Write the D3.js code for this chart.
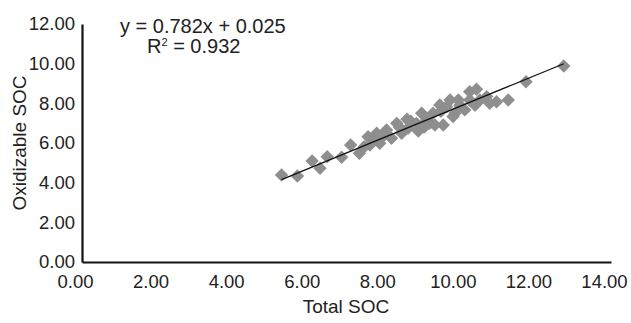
<!DOCTYPE html>
<html>
<head>
<meta charset="utf-8">
<script src="https://cdn.jsdelivr.net/npm/d3@7"></script>
<style>
  body { margin: 0; background: #fff; }
  text { font-family: "Liberation Sans", Arial, sans-serif; fill: #222; }
</style>
</head>
<body>
<div id="chart"></div>
<script>
// Total SOC (x) vs Oxidizable SOC (y)
const totalSoc = [5.28, 5.70, 6.09, 6.30, 6.49, 6.87, 7.11, 7.34, 7.57, 7.62, 7.80, 7.88, 8.06, 8.19, 8.33, 8.46,
  8.63, 8.85, 8.99, 9.07, 7.47, 7.71, 12.75, 11.75, 11.28, 10.97, 10.71, 10.44, 10.26, 10.26, 9.96, 9.74,
  9.65, 9.47, 10.13, 9.87, 9.29, 9.12, 9.56, 9.34, 9.03, 9.82, 10.53, 10.79,
  8.00, 8.40, 8.70, 9.20, 9.50, 10.00, 10.40, 8.90, 7.90, 8.60];
const oxidizableSoc = [4.39, 4.34, 5.09, 4.73, 5.31, 5.28, 5.90, 5.48, 6.32, 5.90, 6.49, 5.99, 6.66, 6.24, 6.99, 6.49,
  6.74, 6.99, 7.50, 6.82, 5.81, 6.15, 9.88, 9.09, 8.17, 8.08, 8.34, 8.71, 8.59, 8.17, 8.17, 8.17,
  7.83, 7.92, 7.67, 7.50, 7.50, 7.16, 6.91, 6.91, 6.82, 7.33, 8.17, 8.00,
  6.40, 6.80, 7.10, 7.00, 7.60, 7.90, 7.90, 6.60, 6.30, 7.20];
const xTicks = [0, 2, 4, 6, 8, 10, 12, 14];
const yTicks = [0, 2, 4, 6, 8, 10, 12];
const slope = 0.782, intercept = 0.025;
const eqLabel = 'y = 0.782x + 0.025';
const r2Value = '0.932';

const width = 631, height = 323;
const svg = d3.select('#chart').append('svg')
  .attr('width', width)
  .attr('height', height);

const x = d3.scaleLinear().domain([0, 14]).range([82, 611]);
const y = d3.scaleLinear().domain([0, 12]).range([262, 24]);

// axes, no tick marks
const xAxis = svg.append('g')
  .attr('transform', `translate(0,${y(0)})`)
  .call(d3.axisBottom(x).tickValues(xTicks).tickSize(0).tickPadding(13).tickFormat(d3.format('.2f')));
xAxis.select('.domain').attr('stroke', '#111').attr('stroke-width', 2.2);
xAxis.selectAll('text').attr('dx', -7).style('font-size', '18.5px');

const yAxis = svg.append('g')
  .attr('transform', `translate(${x(0)},0)`)
  .call(d3.axisLeft(y).tickValues(yTicks).tickSize(0).tickPadding(7).tickFormat(d3.format('.2f')));
yAxis.select('.domain').attr('stroke', '#111').attr('stroke-width', 2.2);
yAxis.selectAll('text').style('font-size', '18.5px');

// points
const pts = totalSoc.map((v, i) => ({ x: v, y: oxidizableSoc[i] }));
svg.append('g').selectAll('path')
  .data(pts)
  .enter().append('path')
  .attr('d', d3.symbol().type(d3.symbolSquare).size(90))
  .attr('transform', d => `translate(${x(d.x)},${y(d.y)}) rotate(45)`)
  .attr('fill', '#8e8e8e');

// trend line
const xExt = d3.extent(totalSoc);
svg.append('line')
  .attr('x1', x(xExt[0])).attr('y1', y(slope * xExt[0] + intercept))
  .attr('x2', x(xExt[1])).attr('y2', y(slope * xExt[1] + intercept))
  .attr('stroke', '#111').attr('stroke-width', 1.3);

// equation
svg.append('text').attr('x', 120).attr('y', 33).style('font-size', '20px').text(eqLabel);
const r2 = svg.append('text').attr('x', 147).attr('y', 53).style('font-size', '20px');
r2.append('tspan').text('R');
r2.append('tspan').attr('dy', -7).style('font-size', '11px').text('2');
r2.append('tspan').attr('dy', 7).text(' = ' + r2Value);

// axis titles
svg.append('text')
  .attr('x', 346).attr('y', 313)
  .attr('text-anchor', 'middle')
  .style('font-size', '19px')
  .text('Total SOC');

svg.append('text')
  .attr('transform', `translate(26,${y(6)}) rotate(-90)`)
  .attr('text-anchor', 'middle')
  .style('font-size', '19px')
  .text('Oxidizable SOC');
</script>
</body>
</html>
